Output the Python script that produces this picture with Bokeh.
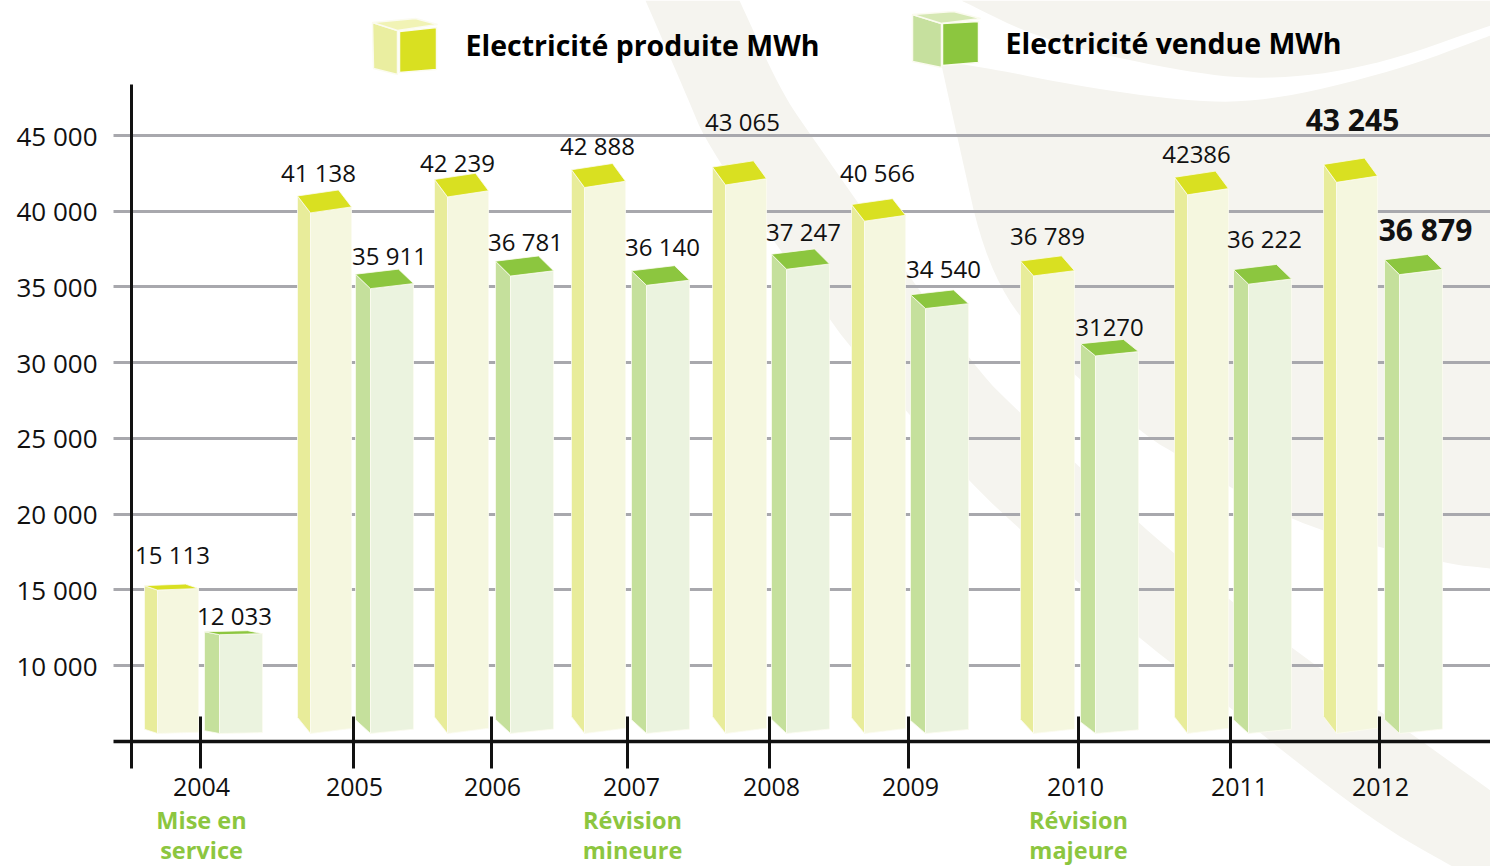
from bokeh.embed import file_html
from bokeh.resources import INLINE
from bokeh.plotting import figure
from bokeh.models import (ColumnDataSource, FixedTicker, Grid, LinearAxis, Range1d)
from bokeh.core.properties import value

# Annual electricity figures (MWh)
years = [2004, 2005, 2006, 2007, 2008, 2009, 2010, 2011, 2012]
produced = [15113, 41138, 42239, 42888, 43065, 40566, 36789, 42386, 43245]
sold = [12033, 35911, 36781, 36140, 37247, 34540, 31270, 36222, 36879]
produced_labels = ["15 113", "41 138", "42 239", "42 888", "43 065", "40 566", "36 789", "42386", "43 245"]
sold_labels = ["12 033", "35 911", "36 781", "36 140", "37 247", "34 540", "31270", "36 222", "36 879"]
y_ticks = [10000, 15000, 20000, 25000, 30000, 35000, 40000, 45000]
y_tick_labels = ["10 000", "15 000", "20 000", "25 000", "30 000", "35 000", "40 000", "45 000"]
milestones = [("Mise en", "service", 201), ("Révision", "mineure", 632), ("Révision", "majeure", 1078)]
series_names = ["Electricité produite MWh", "Electricité vendue MWh"]

# Layout: horizontal placement in page pixels
year_ticks_x = [200, 353, 491, 627, 769, 908, 1078, 1230, 1379]
year_labels_x = [201, 354, 492, 631, 771, 910, 1075, 1239, 1380]
produced_x = [144, 297, 434, 571, 712, 851, 1020, 1174, 1323]
sold_x = [204, 355, 495, 631, 771, 910, 1080, 1233, 1384]
produced_label_x = [172, 318, 457, 597, 742, 877, 1047, 1196, 1352]
sold_label_x = [234, 389, 525, 662, 803, 943, 1109, 1264, 1425]
produced_label_dy = [-34, -21, -15, -22, -43, -30, -24, -21, -43]
sold_label_dy = [-19, -18, -18, -23, -21, -25, -16, -30, -29]

# Vertical scale: 45 000 and 10 000 sit 530 px apart
PX_PER_UNIT = 530 / 35000
Y10K_PX = 665
FLOOR_VALUE = 5000
BAR_FOOT_PX = 733
TOP_LIFT_PX = 4

def val(py):
    return 10000 + (Y10K_PX - py) / PX_PER_UNIT

def smooth(points, rounds=3):
    """Corner-cutting subdivision of an open polyline; its end points stay put."""
    for _ in range(rounds):
        out = [points[0]]
        for (ax, ay), (bx, by) in zip(points, points[1:]):
            out.append((0.75 * ax + 0.25 * bx, 0.75 * ay + 0.25 * by))
            out.append((0.25 * ax + 0.75 * bx, 0.25 * ay + 0.75 * by))
        out.append(points[-1])
        points = out
    return points

W, H = 1490, 866
p = figure(width=W, height=H, output_backend="svg", toolbar_location=None,
           x_axis_location=None, y_axis_location=None,
           x_range=Range1d(0, W), y_range=Range1d(val(H), val(0)),
           min_border=0, background_fill_color="white", border_fill_color="white", outline_line_color=None)
p.grid.visible = False

# Pale swoosh motif behind the chart
bg = "#f5f4ef"
swoosh_low = [(645, 0), (684, 90), (709, 150), (828, 317), (850, 347), (967, 480), (1021, 530), (1076, 580),
              (1138, 638), (1230, 707), (1260, 733), (1376, 823), (1452, 866)]
swoosh_high = [(1490, 790), (1290, 647), (1230, 600), (1138, 523), (1076, 463), (1020, 413), (970, 363),
               (809, 133), (780, 90), (739, 0)]
crescent_low = [(961, 0), (1042, 40), (1175, 70), (1264, 80), (1369, 67), (1490, 25)]
body_top = [(940, 60), (1000, 70), (1064, 83), (1175, 100), (1264, 102), (1397, 70), (1490, 35)]
body_low = [(1490, 568), (1442, 563), (1290, 523), (1175, 453), (1147, 437), (1040, 345), (986, 267),
            (956, 133), (940, 60)]
bg_shapes = [smooth(swoosh_low) + [(1490, 866)] + smooth(swoosh_high),
             smooth(crescent_low) + [(1490, 0)],
             smooth(body_top) + smooth(body_low)]
for shape in bg_shapes:
    p.patch([a for a, _ in shape], [val(b) for _, b in shape], fill_color=bg, line_color=None, level="image")

# Gridlines and left axis
p.add_layout(Grid(dimension=1, ticker=FixedTicker(ticks=y_ticks), grid_line_color="#a8a8ad", grid_line_width=3,
                  cross_bounds=(113, W)))
y_axis = LinearAxis(ticker=FixedTicker(ticks=y_ticks),
                    major_label_overrides={t: s for t, s in zip(y_ticks, y_tick_labels)},
                    major_label_text_font="Open Sans", major_label_text_font_size="26px",
                    major_label_text_color="#111111", major_label_standoff=34,
                    axis_line_color="#111111", axis_line_width=3,
                    major_tick_in=0, major_tick_out=0, major_tick_line_color=None,
                    minor_tick_line_color=None, fixed_location=131, bounds=(val(768), val(84)))
p.add_layout(y_axis, "left")

# Bottom axis: one carries the rule and ticks, the other the year labels
x_axis = LinearAxis(ticker=FixedTicker(ticks=year_ticks_x),
                    major_label_text_color=None, major_label_text_font_size="1px",
                    axis_line_color="#111111", axis_line_width=3.5, bounds=(113, W),
                    major_tick_in=25, major_tick_out=27, major_tick_line_color="#111111", major_tick_line_width=3,
                    minor_tick_line_color=None, fixed_location=FLOOR_VALUE)
p.add_layout(x_axis, "below")
year_axis = LinearAxis(ticker=FixedTicker(ticks=year_labels_x),
                       major_label_overrides={x: str(y) for x, y in zip(year_labels_x, years)},
                       major_label_text_font="Open Sans", major_label_text_font_size="25px",
                       major_label_text_color="#111111", major_label_standoff=31,
                       axis_line_color=None, major_tick_line_color=None, minor_tick_line_color=None,
                       fixed_location=FLOOR_VALUE)
p.add_layout(year_axis, "below")

PRODUCED = dict(side="#e8ec9a", front="#f5f7df", top="#d9e021", side_w=13, front_w=41)
SOLD = dict(side="#c5e09c", front="#ebf3df", top="#8cc63f", side_w=15, front_w=43)

def draw_bars(xs, vals, style):
    side_x, side_y, front_x, front_y, top_x, top_y = [], [], [], [], [], []
    for x0, v in zip(xs, vals):
        # Perspective: the taller the bar, the more of its top face shows
        depth = (v - 5900) * 0.00065
        unit = PX_PER_UNIT
        sw, fw = style["side_w"], style["front_w"]
        x1, x2 = x0 + sw, x0 + sw + fw
        xb = x2 - sw
        t = v + TOP_LIFT_PX / unit
        foot = val(BAR_FOOT_PX)
        lc = t - depth * 6 / 23 / unit
        fc = t - depth / unit
        rc = t - depth * 17 / 23 / unit
        side_x.append([x0, x1, x1, x0])
        side_y.append([lc, fc, foot, foot + depth * 0.7 / unit])
        front_x.append([x1, x2, x2, x1])
        front_y.append([fc, rc, foot + depth * 0.22 / unit, foot])
        top_x.append([x0, xb, x2, x1])
        top_y.append([lc, t, rc, fc])
    edge = dict(line_color="#fbfbf0", line_width=1, line_alpha=0.8)
    p.patches(side_x, side_y, fill_color=style["side"], **edge)
    p.patches(front_x, front_y, fill_color=style["front"], **edge)
    p.patches(top_x, top_y, fill_color=style["top"], **edge)

draw_bars(produced_x, produced, PRODUCED)
draw_bars(sold_x, sold, SOLD)

# Value labels; the two latest figures are set in bold
def draw_labels(xs, vals, labels, dys):
    for rows, size, style in [(range(len(xs) - 1), "24px", "normal"), ([len(xs) - 1], "30px", "bold")]:
        src = ColumnDataSource(dict(x=[xs[i] for i in rows], y=[vals[i] for i in rows],
                                    t=[labels[i] for i in rows], dy=[dys[i] for i in rows]))
        p.text("x", "y", text="t", y_offset="dy", source=src, text_align="center", text_baseline="middle",
               text_font=value("Open Sans"), text_font_size=size, text_font_style=style, text_color="#111111")

draw_labels(produced_label_x, produced, produced_labels, produced_label_dy)
draw_labels(sold_label_x, sold, sold_labels, sold_label_dy)

# Milestone notes under the years
for first, second, mx in milestones:
    p.text([mx, mx], [val(819), val(849)], text=[first, second], text_align="center", text_baseline="middle",
           text_font=value("Open Sans"), text_font_size="23.5px", text_font_style="bold", text_color="#8cc63f")

# Legend cubes and captions
def cube(side_xy, top_xy, front_xy, side_c, top_c, front_c):
    for xy, c in [(side_xy, side_c), (top_xy, top_c), (front_xy, front_c)]:
        p.patch([a for a, _ in xy], [val(b) for _, b in xy], fill_color=c, line_color="#fbfbf0", line_width=1.5)

cube([(372, 22), (397, 30), (397, 74), (373, 68)], [(372, 22), (415, 18), (437, 24), (397, 30)],
     [(399, 31), (436, 27), (436, 69), (399, 72)], "#eaeea0", "#f1f3b5", "#d9e021")
cube([(912, 14), (941, 23), (941, 67), (912, 61)], [(912, 14), (953, 11), (980, 18), (941, 23)],
     [(942, 23), (978, 21), (978, 62), (942, 65)], "#c6e09e", "#d6e8b4", "#8cc63f")
p.text([465, 1005], [val(44), val(42)], text=series_names, text_align="left", text_baseline="middle",
       text_font=value("Open Sans"), text_font_size="28.5px", text_font_style="bold", text_color="#000000")

open("out.html", "w").write(file_html(p, INLINE))
